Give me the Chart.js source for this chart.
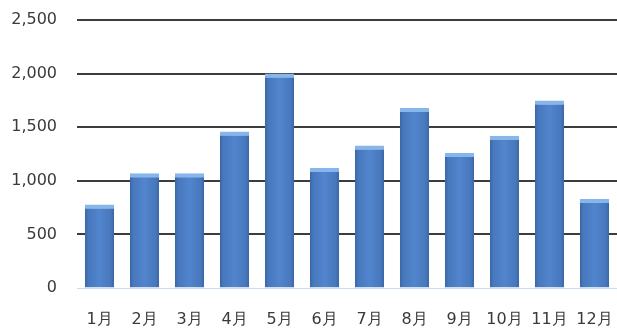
<!DOCTYPE html>
<html lang="ja">
<head>
    <meta charset="UTF-8">
    <title>月別グラフ</title>
    <script src="https://cdn.jsdelivr.net/npm/chart.js"></script>
    <style>
        html, body { margin: 0; padding: 0; background: #ffffff; }
        #wrap { width: 617px; height: 335px; }
    </style>
</head>
<body>
    <div id="wrap"><canvas id="chart"></canvas></div>

    <script>
        // data
        const months = ["1月", "2月", "3月", "4月", "5月", "6月", "7月", "8月", "9月", "10月", "11月", "12月"];
        const values = [780, 1070, 1070, 1460, 2000, 1120, 1330, 1680, 1260, 1420, 1750, 830];
        const yTicks = [0, 500, 1000, 1500, 2000, 2500];

        const font = { family: "'DejaVu Sans', Verdana, sans-serif", size: 16 };

        // horizontal shading of each bar, like the old Excel bevel
        function barFill(ctx) {
            const chart = ctx.chart;
            const xs = chart.scales.x;
            if (!chart.chartArea || !xs || ctx.dataIndex === undefined) return '#4a7ec6';
            const cx = xs.getPixelForValue(ctx.dataIndex);
            const half = 14.5;
            const g = chart.ctx.createLinearGradient(cx - half, 0, cx + half, 0);
            g.addColorStop(0, '#3a67a6');
            g.addColorStop(0.12, '#4878bd');
            g.addColorStop(0.5, '#5185cd');
            g.addColorStop(0.88, '#4878bd');
            g.addColorStop(1, '#3a67a6');
            return g;
        }

        new Chart(document.getElementById('chart'), {
            type: 'bar',
            data: {
                labels: months,
                datasets: [{
                    data: values,
                    backgroundColor: barFill,
                    borderColor: '#86b6ec',
                    borderWidth: { top: 4, left: 0, right: 0, bottom: 0 },
                    borderSkipped: 'bottom',
                    barPercentage: 0.65,
                    categoryPercentage: 1
                }]
            },
            options: {
                responsive: true,
                maintainAspectRatio: false,
                animation: false,
                layout: { padding: { top: 20, right: 0, bottom: 0, left: 0 } },
                plugins: {
                    legend: { display: false },
                    tooltip: { enabled: false }
                },
                scales: {
                    x: {
                        grid: { display: false, drawTicks: false },
                        border: { display: false },
                        ticks: { color: '#3a3a3a', font: font, padding: 22, maxRotation: 0 },
                        afterFit: axis => {
                            axis.height = 47;
                            axis.paddingLeft = 0;
                            axis.paddingRight = 0;
                        }
                    },
                    y: {
                        min: 0,
                        max: 2500,
                        afterBuildTicks: axis => { axis.ticks = yTicks.map(v => ({ value: v })); },
                        grid: {
                            drawTicks: false,
                            color: c => c.tick && c.tick.value === 0 ? 'rgba(170,195,230,0.6)' : '#3c3c3c',
                            lineWidth: c => c.tick && c.tick.value === 0 ? 1 : 2
                        },
                        border: { display: false },
                        ticks: {
                            color: '#3a3a3a',
                            font: font,
                            padding: 20,
                            callback: v => v.toLocaleString('en-US')
                        },
                        afterFit: axis => {
                            axis.width = 77;
                            axis.paddingTop = 0;
                            axis.paddingBottom = 0;
                        }
                    }
                }
            }
        });
    </script>
</body>
</html>
